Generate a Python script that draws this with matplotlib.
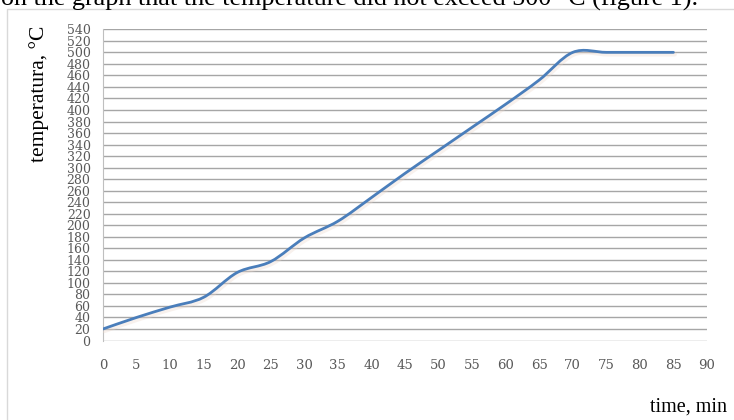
import numpy as np
import matplotlib.pyplot as plt
from matplotlib.path import Path
from matplotlib.patches import PathPatch, Rectangle
import matplotlib.patheffects as pe

# heating curve, one reading every 5 minutes
time_min = [0, 5, 10, 15, 20, 25, 30, 35, 40, 45, 50, 55, 60, 65, 70, 75, 80, 85]
temperature = [20, 40, 58, 75, 118, 137, 178, 207, 248, 290, 330, 370, 410, 452,
               500, 500, 500, 500]
x_ticks = list(range(0, 95, 5))
y_ticks = list(range(0, 560, 20))

W, H = 734, 420


def smooth_path(xs, ys):
    """Cubic bezier path through the points (Catmull-Rom style smoothing)."""
    pts = np.column_stack([xs, ys]).astype(float)
    n = len(pts)
    verts = [pts[0]]
    codes = [Path.MOVETO]
    for i in range(n - 1):
        p0 = pts[max(i - 1, 0)]
        p1 = pts[i]
        p2 = pts[i + 1]
        p3 = pts[min(i + 2, n - 1)]
        c1 = p1 + (p2 - p0) / 6.0
        c2 = p2 - (p3 - p1) / 6.0
        verts += [c1, c2, p2]
        codes += [Path.CURVE4] * 3
    return Path(verts, codes)


fig = plt.figure(figsize=(W / 100, H / 100), dpi=100)

# left, bottom, width, height in pixels -> figure fractions
ax_l, ax_r, ax_t, ax_b = 103, 707, 29.3, 340.5
ax = fig.add_axes([ax_l / W, 1 - ax_b / H, (ax_r - ax_l) / W, (ax_b - ax_t) / H])

ax.set_xlim(0, 90)
ax.set_ylim(0, 540)
ax.set_xticks(x_ticks)
ax.set_yticks(y_ticks)
ax.set_xticklabels([str(v) for v in x_ticks])
ax.set_yticklabels([str(v) for v in y_ticks])

ax.yaxis.grid(True, color="#a6a6a6", linewidth=1.0)
ax.set_axisbelow(True)
for side in ["top", "right", "bottom"]:
    ax.spines[side].set_visible(False)
ax.spines["left"].set_color("#bfbfbf")
ax.spines["left"].set_linewidth(0.8)

ax.tick_params(axis="both", length=0, colors="#595959")
ax.tick_params(axis="x", pad=13, labelsize=9.5)
ax.tick_params(axis="y", pad=9, labelsize=9)
for lbl in ax.get_xticklabels() + ax.get_yticklabels():
    lbl.set_family("DejaVu Serif")

curve = PathPatch(smooth_path(time_min, temperature), facecolor="none",
                  edgecolor="#4a7ebb", linewidth=2.0, capstyle="round",
                  transform=ax.transData, zorder=3)
curve.set_path_effects([
    pe.SimpleLineShadow(offset=(1.0, -1.5), shadow_color="#ecd8cc", alpha=0.35,
                        linewidth=3.0),
    pe.Normal(),
])
ax.add_patch(curve)

# axis titles placed in the chart area
fig.text(39 / W, 1 - 94 / H, "temperatura, °C", rotation=90, ha="center",
         va="center", fontsize=15.5, family="Liberation Serif", color="black")
fig.text(689 / W, 1 - 407 / H, "time, min", ha="center", va="center",
         fontsize=14.5, family="Liberation Serif", color="black")

# chart area border
fig.patches.append(Rectangle((7 / W, -0.05), 1.0, 1 - 8.5 / H + 0.05,
                             transform=fig.transFigure, facecolor="none",
                             edgecolor="#d9d9d9", linewidth=1.0))

# last line of the surrounding text
fig.text(1 / W, 1 - 6 / H,
         "on the graph that the temperature did not exceed 500 °C (figure 1).",
         ha="left", va="baseline", fontsize=18.8, family="Liberation Serif",
         color="black")

fig.savefig("out.png", dpi=100)
